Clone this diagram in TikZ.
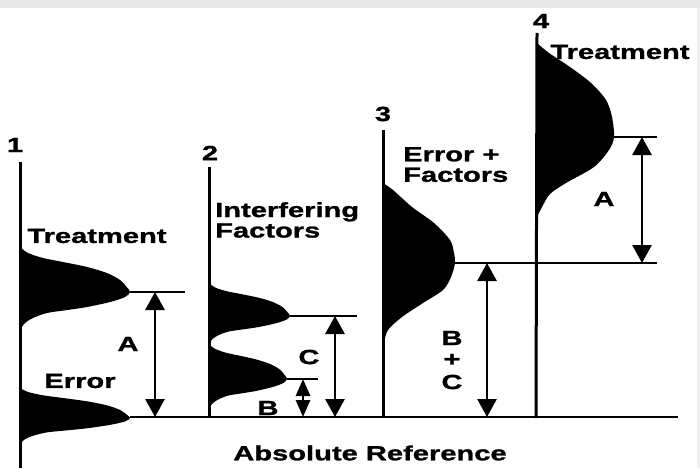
\documentclass[tikz,border=0pt]{standalone}
\usepackage{fontspec}
\newfontfamily\labfont{Liberation Sans}[FakeStretch=1.42,BoldFeatures={FakeStretch=1.42,FakeBold=1.2}]
\usetikzlibrary{arrows.meta}
\definecolor{bandgrey}{RGB}{230,231,233}
% bell-shaped distribution: axis x, peak y, amplitude, upper half-width, lower half-width
\newcommand\bellpeak[5]{%
  \fill plot[smooth] coordinates {(#1,#2-#4) (#1+0.073*#3,#2-0.867*#4)
    (#1+0.209*#3,#2-0.756*#4) (#1+0.39*#3,#2-0.667*#4) (#1+0.61*#3,#2-0.556*#4)
    (#1+0.79*#3,#2-0.422*#4) (#1+0.91*#3,#2-0.267*#4) (#1+0.97*#3,#2-0.111*#4)
    (#1+#3,#2) (#1+0.955*#3,#2+0.132*#5) (#1+0.82*#3,#2+0.263*#5)
    (#1+0.61*#3,#2+0.395*#5) (#1+0.43*#3,#2+0.474*#5) (#1+0.245*#3,#2+0.553*#5)
    (#1+0.118*#3,#2+0.684*#5) (#1+0.045*#3,#2+0.816*#5) (#1,#2+#5)} -- cycle;}
\begin{document}
\begin{tikzpicture}[x=1pt,y=-1pt,
  lab/.style={font=\labfont\bfseries\fontsize{20.5}{20.5}\selectfont,inner sep=0pt},
  axisline/.style={line width=3pt},
  level/.style={line width=2pt},
  dimarrow/.style={line width=2.8pt,{Triangle[width=19pt,length=18pt]}-{Triangle[width=19pt,length=18pt]}}]
\useasboundingbox (0,0) rectangle (700,468);
\fill[white] (0,0) rectangle (700,468);
\fill[bandgrey] (0,0) rectangle (700,8);
\fill[bandgrey!60] (697,8) rectangle (700,468);

% distributions
\bellpeak{20}{292}{110}{45}{38}
\bellpeak{20}{418}{110}{30}{26}
\bellpeak{209}{316}{81}{33}{28}
\bellpeak{209}{379}{78}{35}{30}
\fill plot[smooth] coordinates {(383,183) (393,190) (412,207) (434,223) (450,240)
  (454,253) (455,263) (451,277) (443,290) (423,303) (402,317) (388,330) (384,343) (383,353)} -- cycle;
\fill plot[smooth] coordinates {(537,43) (549,53) (570,67) (591,83) (606,100)
  (612,117) (614,137) (609,150) (594,167) (566,183) (550,194) (542,207) (537,217)} -- cycle;

% axes
\draw[axisline] (20,162) -- (20,468);
\draw[axisline] (209,167) -- (209,418);
\draw[axisline] (383,130) -- (383,418);
\draw[axisline] (537,33) -- (536,418);

% named points
\coordinate (t1) at (130,292);
\coordinate (e1) at (130,417);
\coordinate (u2) at (290,316);
\coordinate (l2) at (287,379);
\coordinate (p3) at (455,263);
\coordinate (p4) at (614,137);
\coordinate (ref) at (678,417);
\coordinate (t1end) at (185,292);
\coordinate (u2end) at (357,316);
\coordinate (l2end) at (318,379);
\coordinate (p3end) at (657,263);
\coordinate (p4end) at (657,137);

% level lines
\draw[level] (e1) -- (ref);
\draw[level] (t1) -- (t1end);
\draw[level] (u2) -- (u2end);
\draw[level] (l2) -- (l2end);
\draw[level] (p3) -- (p3end);
\draw[level] (p4) -- (p4end);

% dimension arrows
\coordinate (a1t) at (155,292); \coordinate (a1b) at (155,417);
\coordinate (ct) at (335,316);  \coordinate (cb) at (335,417);
\coordinate (bt) at (303,379);  \coordinate (bb) at (303,417);
\coordinate (bct) at (487,263); \coordinate (bcb) at (487,417);
\coordinate (a4t) at (642,137); \coordinate (a4b) at (642,263);
\draw[dimarrow] (a1t) -- (a1b);
\draw[dimarrow] (ct) -- (cb);
\draw[dimarrow,{Triangle[width=14pt,length=17pt]}-{Triangle[width=14pt,length=17pt]}] (bt) -- (bb);
\draw[dimarrow] (bct) -- (bcb);
\draw[dimarrow] (a4t) -- (a4b);

% labels
\node[lab] (n1) at (15,145) {1};
\node[lab] (n2) at (210,153) {2};
\node[lab] (n3) at (383,114) {3};
\node[lab] (n4) at (541,21) {4};
\node[lab] (treat1) at (97,236) {Treatment};
\node[lab] (err1) at (80,381) {Error};
\node[lab] (la1) at (128,344) {A};
\node[lab,anchor=north west,align=left] (interf) at (215,202) {Interfering\\Factors};
\node[lab] (lc) at (309,357) {C};
\node[lab] (lb) at (268,408) {B};
\node[lab,anchor=north west,align=left] (errf) at (403,147) {Error +\\Factors};
\node[lab] (lb3) at (452,338) {B};
\node[lab] (lplus) at (452,360) {+};
\node[lab] (lc3) at (452,382) {C};
\node[lab] (treat4) at (620,52) {Treatment};
\node[lab] (la4) at (604,199) {A};
\node[lab] (absref) at (370,453) {Absolute Reference};
\end{tikzpicture}
\end{document}
